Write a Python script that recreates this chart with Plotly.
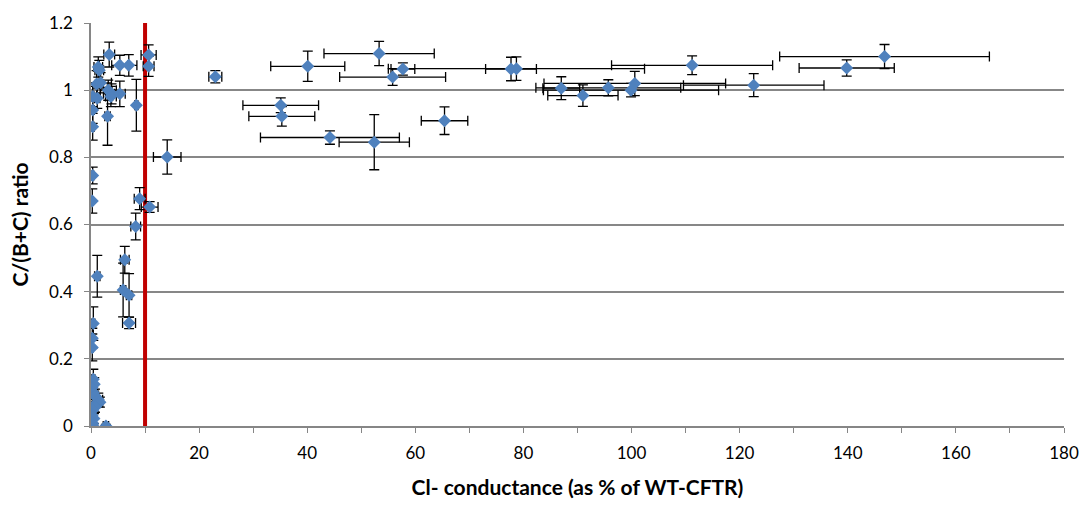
import plotly.graph_objects as go

# Cl- conductance (% of WT-CFTR), C/(B+C) ratio, and their errors
conductance = [146.8, 139.8, 122.6, 111.2, 100.6, 99.9, 95.7, 91.0, 87.0, 78.7,
               77.7, 65.4, 57.7, 55.8, 53.3, 52.4, 44.2, 40.1, 35.1, 35.3,
               23.0, 14.1, 10.85, 10.66, 10.66, 9.0, 8.27, 8.39, 6.25, 5.94,
               7.04, 7.04, 3.37, 5.33, 6.99, 1.35, 1.53, 1.04, 1.78, 3.19,
               3.80, 3.68, 5.33, 0.31, 1.16, 0.31, 3.06, 0.31, 0.31, 0.24,
               1.16, 0.43, 0.24, 0.24, 0.43, 0.60, 0.20, 0.43, 0.74, 1.35,
               1.65, 0.55, 0.74, 0.31, 0.20, 0.55, 0.31, 0.31, 2.76]
ratio = [1.100, 1.066, 1.015, 1.074, 1.020, 1.000, 1.007, 0.984, 1.006, 1.064,
         1.063, 0.909, 1.063, 1.039, 1.109, 0.845, 0.859, 1.071, 0.955, 0.922,
         1.040, 0.801, 0.652, 1.105, 1.071, 0.677, 0.594, 0.955, 0.495, 0.405,
         0.389, 0.307, 1.106, 1.074, 1.074, 1.069, 1.059, 1.018, 1.022, 1.000,
         0.989, 0.981, 0.989, 0.981, 0.976, 0.941, 0.922, 0.891, 0.746, 0.670,
         0.446, 0.305, 0.261, 0.234, 0.139, 0.124, 0.114, 0.100, 0.090, 0.078,
         0.071, 0.061, 0.056, 0.047, 0.032, 0.022, 0.008, 0.002, 0.000]
conductance_err = [19.4, 8.8, 13.0, 14.9, 16.8, 16.2, 13.4, 6.5, 3.4, 23.7,
                   4.7, 4.3, 2.2, 9.8, 10.2, 6.5, 12.85, 6.85, 7.0, 6.1,
                   1.2, 2.55, 1.55, 1.4, 1.0, 1.0, 0.9, 0.3, 0.8, 0.5,
                   0.5, 1.2, 1.0, 1.5, 1.5, 0.8, 0.8, 1.2, 2.0, 1.5,
                   1.5, 1.0, 1.0, 0.3, 0.5, 0.3, 0.5, 0.3, 0.2, 0.2,
                   0.5, 0.3, 0.2, 0.2, 0.3, 0.3, 0.2, 0.3, 0.5, 0.8,
                   0.5, 0.3, 0.3, 0.2, 0.2, 0.3, 0.2, 0.2, 0.5]
ratio_err = [0.036, 0.024, 0.034, 0.028, 0.036, 0.020, 0.024, 0.032, 0.034, 0.035,
             0.035, 0.041, 0.018, 0.025, 0.036, 0.082, 0.020, 0.045, 0.022, 0.029,
             0.018, 0.051, 0.016, 0.030, 0.030, 0.033, 0.040, 0.077, 0.040, 0.080,
             0.065, 0.017, 0.037, 0.030, 0.032, 0.030, 0.030, 0.040, 0.030, 0.030,
             0.030, 0.030, 0.038, 0.030, 0.030, 0.040, 0.086, 0.040, 0.025, 0.036,
             0.062, 0.050, 0.030, 0.040, 0.030, 0.020, 0.020, 0.020, 0.020, 0.020,
             0.015, 0.020, 0.015, 0.020, 0.015, 0.015, 0.010, 0.005, 0.005]

THRESHOLD = 10
x_ticks = list(range(0, 181, 20))
y_ticks = [0, 0.2, 0.4, 0.6, 0.8, 1, 1.2]
y_tick_text = ["0", "0.2", "0.4", "0.6", "0.8", "1", "1.2"]

FONT = "Lato, Carlito, Calibri, 'Open Sans', sans-serif"

fig = go.Figure()
fig.add_trace(go.Scatter(
    x=conductance, y=ratio, mode="markers",
    marker=dict(symbol="diamond", size=10, color="#4F81BD", line=dict(width=0)),
    error_x=dict(type="data", array=conductance_err, color="black", thickness=1.3, width=5),
    error_y=dict(type="data", array=ratio_err, color="black", thickness=1.3, width=5),
    showlegend=False, hoverinfo="x+y",
))

fig.add_shape(type="line", xref="x", yref="y", x0=THRESHOLD, x1=THRESHOLD,
              y0=0, y1=1.2, line=dict(color="#C00000", width=4), layer="between")

# y-axis title placed as an annotation so it can sit near the left edge
fig.add_annotation(text="<b>C/(B+C) ratio</b>", textangle=-90,
                   xref="paper", yref="paper", x=-0.073, y=0.5,
                   xanchor="center", yanchor="middle", showarrow=False,
                   font=dict(size=21, family=FONT, color="black"))

fig.update_layout(
    width=1091, height=508,
    margin=dict(l=91, r=21, t=15, b=82),
    paper_bgcolor="white", plot_bgcolor="white",
    font=dict(family=FONT, size=17, color="black"),
)
fig.update_xaxes(
    range=[0, 180], tickvals=x_ticks, ticktext=[str(v) for v in x_ticks],
    showgrid=False, zeroline=False,
    showline=True, linecolor="#868686", linewidth=1.5,
    ticks="outside", ticklen=5, tickcolor="#868686", tickwidth=1,
    ticklabelstandoff=6,
    minor=dict(dtick=10, ticks="outside", ticklen=5, tickcolor="#868686", showgrid=False),
    tickfont=dict(size=17, family=FONT),
    title=dict(text="<b>Cl- conductance (as % of WT-CFTR)</b>", font=dict(size=21, family=FONT), standoff=18),
)
fig.update_yaxes(
    range=[0, 1.2], tickvals=y_ticks, ticktext=y_tick_text,
    showgrid=True, gridcolor="#878787", gridwidth=1.5, zeroline=False,
    showline=True, linecolor="#868686", linewidth=1.5,
    ticks="outside", ticklen=5, tickcolor="#868686", tickwidth=1,
    ticklabelstandoff=8,
    tickfont=dict(size=17, family=FONT),
)

fig.write_html("out.html")
